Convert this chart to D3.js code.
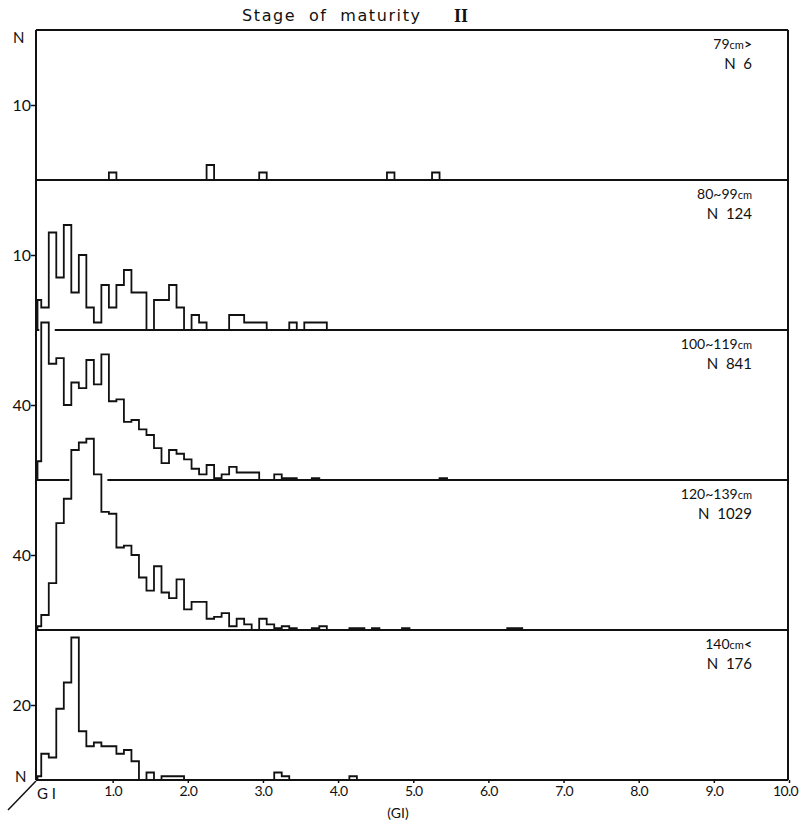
<!DOCTYPE html>
<html>
<head>
<meta charset="utf-8">
<script src="https://cdn.jsdelivr.net/npm/d3@7"></script>
<style>
  body { margin: 0; background: #fff; }
  text { font-family: "DejaVu Sans", sans-serif; fill: #111; }
</style>
</head>
<body>
<div></div>
<script>
// counts per GI class of width 0.1, index k = class centred at k*0.1
let panelNames = ["79", "80~99", "100~119", "120~139", "140"]
let panelSuffix = [">", "", "", "", "<"]
let panelN = [6, 124, 841, 1029, 176]
let panelTick = [10, 10, 40, 40, 20]

let counts79 = [0,0,0,0,0,0,0,0,0,0, 1,0,0,0,0,0,0,0,0,0, 0,0,0,2,0,0,0,0,0,0,
  1,0,0,0,0,0,0,0,0,0, 0,0,0,0,0,0,0,1,0,0, 0,0,0,1]
let counts80 = [4,3,13,7,14,5,10,3,1,6, 3,6,8,5,5,0,4,4,6,3, 0,2,1,0,0,0,2,2,1,1,
  1,0,0,0,1,0,1,1,1]
let counts100 = [10,84,62,65,40,52,49,64,51,67, 42,43,31,32,27,24,17,9,16,14, 11,6,3,8,1,3,7,4,4,4,
  0,0,3,1,1,0,0,1,0,0, 0,0,0,0,0,0,0,0,0,0, 0,0,0,0,1]
let counts120 = [2,8,25,57,70,96,100,102,83,63, 62,44,45,40,28,21,34,20,17,27, 11,15,15,6,7,9,2,6,3,0,
  6,3,1,2,1,0,0,1,2,0, 0,0,1,1,0,1,0,0,0,1, 0,0,0,0,0,0,0,0,0,0, 0,0,0,1,1]
let counts140 = [1,7,6,19,26,38,13,9,10,9, 9,7,8,5,0,2,0,1,1,1, 0,0,0,0,0,0,0,0,0,0,
  0,0,2,1,0,0,0,0,0,0, 0,0,1]
let panelCounts = [counts79, counts80, counts100, counts120, counts140]

let xTicks = [1, 2, 3, 4, 5, 6, 7, 8, 9, 10]
let xTickLabels = ["1.0", "2.0", "3.0", "4.0", "5.0", "6.0", "7.0", "8.0", "9.0", "10.0"]

let w = 799, h = 823
let padLeft = 36, padRight = 788, padTop = 30
let panelH = 150

let svg = d3.select("div").append("svg").attr("width", w).attr("height", h)

let x = d3.scaleLinear().domain([0, 10]).range([padLeft + 1.5, padRight + 1])

// title
svg.append("text").attr("x", 242).attr("y", 21)
  .style("font-size", "16px").style("letter-spacing", "1.6px").style("word-spacing", "6px")
  .text("Stage of maturity")
svg.append("text").attr("x", 454).attr("y", 22)
  .style("font-family", "'Liberation Serif', serif").style("font-weight", "bold").style("font-size", "18px")
  .text("II")

function stepPoints(c) {
  let pts = [[0, 0]]
  c.forEach((v, k) => {
    let x0 = Math.max(0, (k - 0.5) * 0.1)
    let x1 = (k + 0.5) * 0.1
    pts.push([x0, v], [x1, v])
  })
  pts.push([(c.length - 0.5) * 0.1, 0])
  return pts
}

let gaps = []

panelCounts.forEach((c, i) => {
  let base = padTop + panelH * (i + 1)
  let y = d3.scaleLinear().domain([0, panelTick[i] * 2]).range([base, base - panelH])
  let g = svg.append("g")

  let line = d3.line().x(d => x(d[0])).y(d => y(d[1]))
  g.append("path").attr("d", line(stepPoints(c)))
    .attr("fill", "none").attr("stroke", "#111").attr("stroke-width", 1.8)

  // classes that run over the top of the panel break the line above
  let over = c.map((v, k) => v > panelTick[i] * 2 ? k : -1).filter(k => k >= 0)
  if (over.length) {
    gaps[i] = [x(Math.max(0, (over[0] - 0.5) * 0.1)) - 2, x((over[over.length - 1] + 0.5) * 0.1) + 6]
  }

  // y tick
  let yAxis = d3.axisLeft(y).tickValues([panelTick[i]]).tickSize(5).tickSizeOuter(0)
  let ax = g.append("g").attr("transform", "translate(" + padLeft + ",0)").call(yAxis)
  ax.select(".domain").remove()
  ax.selectAll("line").attr("stroke", "#111").attr("stroke-width", 1.5)
  ax.selectAll("text").style("font-size", "16px").style("font-family", "Lato, sans-serif").attr("x", -5)

  // panel label
  let lab = g.append("text").attr("x", 752).attr("y", base - panelH + 19).attr("text-anchor", "end")
    .style("font-size", "14px").style("font-family", "Lato, sans-serif")
  lab.append("tspan").text(panelNames[i])
  lab.append("tspan").style("font-size", "11px").text("cm")
  if (panelSuffix[i]) lab.append("tspan").style("font-size", "14px").style("font-weight", "bold").text(panelSuffix[i])
  g.append("text").attr("x", 752).attr("y", base - panelH + 39).attr("text-anchor", "end")
    .style("font-size", "15px").style("font-family", "Lato, sans-serif").style("white-space", "pre")
    .text("N  " + panelN[i])
})

// frame and separators
let frame = svg.append("g").attr("stroke", "#111").attr("stroke-width", 2).attr("fill", "none")
frame.append("line").attr("x1", padLeft).attr("x2", padRight).attr("y1", padTop).attr("y2", padTop)
frame.append("line").attr("x1", padLeft).attr("x2", padLeft).attr("y1", padTop).attr("y2", padTop + panelH * 5)
frame.append("line").attr("x1", padRight).attr("x2", padRight).attr("y1", padTop).attr("y2", padTop + panelH * 5)
for (let i = 0; i < 5; i++) {
  let yy = padTop + panelH * (i + 1)
  let gap = gaps[i + 1]
  if (gap) {
    frame.append("line").attr("x1", padLeft).attr("x2", Math.max(padLeft, gap[0])).attr("y1", yy).attr("y2", yy)
    frame.append("line").attr("x1", gap[1]).attr("x2", padRight).attr("y1", yy).attr("y2", yy)
  } else {
    frame.append("line").attr("x1", padLeft).attr("x2", padRight).attr("y1", yy).attr("y2", yy)
  }
}

// x axis
let xAxis = d3.axisBottom(x).tickValues(xTicks).tickFormat((d, i) => xTickLabels[i]).tickSize(3).tickSizeOuter(0)
let xa = svg.append("g").attr("transform", "translate(0," + (padTop + panelH * 5) + ")").call(xAxis)
xa.select(".domain").remove()
xa.selectAll("line").attr("stroke", "#111").attr("stroke-width", 1.5)
xa.selectAll("text").style("font-size", "14px").style("font-family", "Lato, sans-serif").style("letter-spacing", "-0.6px").attr("y", 6)
xa.selectAll("text").filter(d => d === 10).attr("dx", -4)

svg.append("text").attr("x", 37).attr("y", 799).style("font-size", "15px").style("font-family", "Lato, sans-serif").text("G I")
svg.append("text").attr("x", 398).attr("y", 818).attr("text-anchor", "middle")
  .style("font-size", "14px").style("font-family", "Lato, sans-serif").text("(GI)")
svg.append("line").attr("x1", 8).attr("y1", 810).attr("x2", padLeft).attr("y2", 781)
  .attr("stroke", "#111").attr("stroke-width", 1.5)

// N labels on the y axis
svg.append("text").attr("x", 13).attr("y", 43).style("font-size", "15px").style("font-family", "Lato, sans-serif").text("N")
svg.append("text").attr("x", 15).attr("y", 782).style("font-size", "15px").style("font-family", "Lato, sans-serif").text("N")
</script>
</body>
</html>
